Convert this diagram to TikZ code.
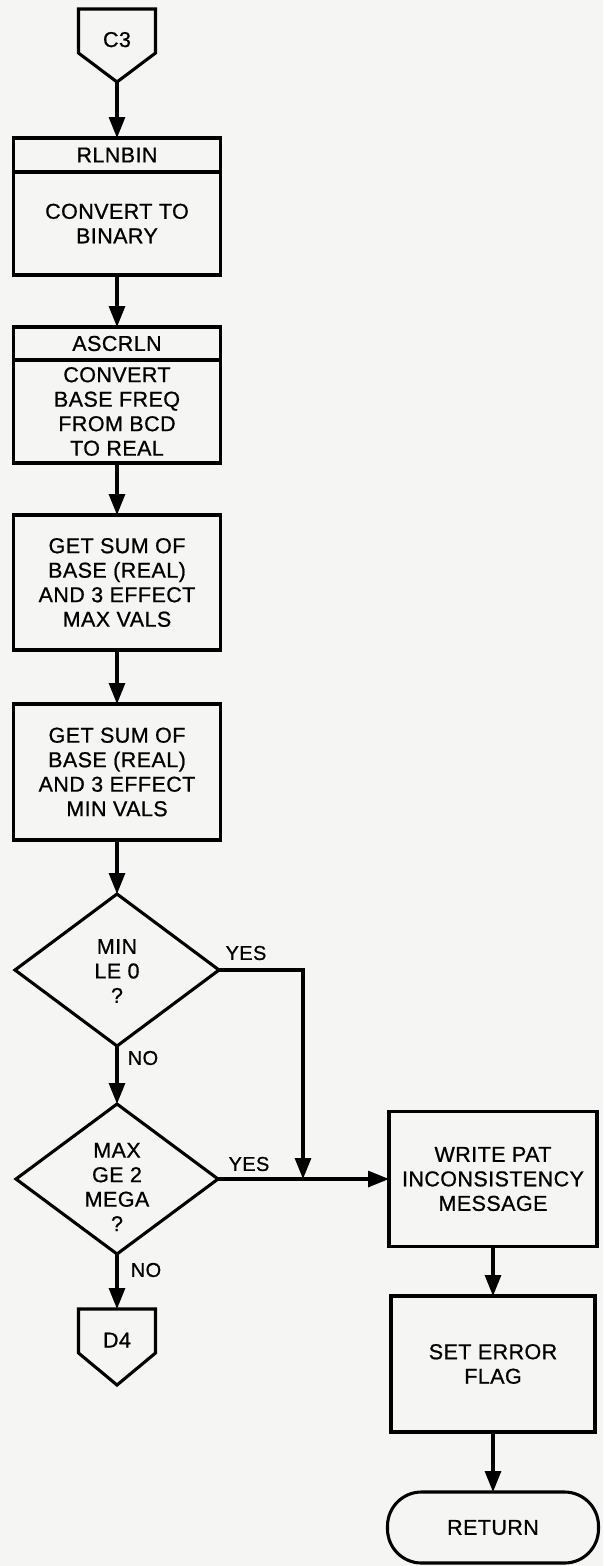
\documentclass[tikz,border=0pt]{standalone}
\usepackage{fontspec}
\setmainfont{Liberation Sans}
\newfontfamily\flowfont{Liberation Sans}[FakeBold=0.8, LetterSpace=2]
\usetikzlibrary{arrows.meta,shapes.geometric,calc}

\definecolor{paper}{RGB}{245,245,244}

\begin{document}
\begin{tikzpicture}[x=1pt,y=-1pt,
  flow/.style={line width=3.1pt, line join=miter},
  txt/.style={font=\flowfont\fontsize{21.5}{24.5}\selectfont, align=center, inner sep=0pt},
  lbl/.style={font=\flowfont\fontsize{20}{24}\selectfont, inner sep=0pt},
  procbox/.style={flow, draw, rectangle, minimum width=207pt, outer sep=0pt, txt},
  decision/.style={flow, draw, diamond, inner sep=0pt, outer sep=0pt},
  connector/.style={inner sep=0pt, outer sep=0pt, minimum width=77pt,
    font=\flowfont\fontsize{21.5}{24.5}\selectfont, text height=15pt},
  terminal/.style={flow, draw, rectangle, rounded corners=34pt, outer sep=0pt, txt},
  arr/.style={flow, -{Triangle[length=21pt,width=16pt]}},
]
% page
\useasboundingbox (0,0) rectangle (603,1566);
\fill[paper] (0,0) rectangle (603,1566);

% entry connector
\node[connector, minimum height=73pt, text depth=12pt] (c3) at (117,45.5) {C3};
\draw[flow] (c3.north west) -- (c3.north east) -- ([yshift=-44pt]c3.north east)
  -- (c3.south) -- ([yshift=-44pt]c3.north west) -- cycle;

% predefined processes
\node[procbox, minimum height=34pt] (rlnhead) at (117,155) {RLNBIN};
\node[procbox, minimum height=103pt, anchor=north] (rlnbody) at (rlnhead.south) {CONVERT TO\\BINARY};

\node[procbox, minimum height=33pt] (aschead) at (117,343.5) {ASCRLN};
\node[procbox, minimum height=103pt, anchor=north] (ascbody) at (aschead.south) {CONVERT\\BASE FREQ\\FROM BCD\\TO REAL};

% sums
\node[procbox, minimum height=135pt] (maxsum) at (117,582.5) {GET SUM OF\\BASE (REAL)\\AND 3 EFFECT\\MAX VALS};
\node[procbox, minimum height=136pt] (minsum) at (117,772) {GET SUM OF\\BASE (REAL)\\AND 3 EFFECT\\MIN VALS};

% decisions
\node[decision, minimum width=204pt, minimum height=152pt] (d1) at (117,970) {};
\node[txt] (d1txt) at (117,971) {MIN\\LE 0\\?};
\node[decision, minimum width=202pt, minimum height=150pt] (d2) at (117,1179) {};
\node[txt] (d2txt) at (117,1187) {MAX\\GE 2\\MEGA\\?};

% exit connector
\node[connector, minimum height=76pt, text depth=14pt] (d4) at (117,1347) {D4};
\draw[flow] (d4.north west) -- (d4.north east) -- ([yshift=-44pt]d4.north east)
  -- (d4.south) -- ([yshift=-44pt]d4.north west) -- cycle;

% error branch
\node[procbox, minimum width=208pt, minimum height=135pt] (write) at (493,1179) {WRITE PAT\\INCONSISTENCY\\MESSAGE};
\node[procbox, minimum width=204pt, minimum height=136pt] (seterr) at (493,1364) {SET ERROR\\FLAG};
\node[terminal, minimum width=211pt, minimum height=71pt] (ret) at (493,1527.5) {RETURN};

% flow lines
\draw[arr] (c3.south) -- (rlnhead.north);
\draw[arr] (rlnbody.south) -- (aschead.north);
\draw[arr] (ascbody.south) -- (maxsum.north);
\draw[arr] (maxsum.south) -- (minsum.north);
\draw[arr] (minsum.south) -- (d1.north);
\draw[arr] (d1.south) -- (d2.north);
\draw[arr] (d2.south) -- (d4.north);

\coordinate (join) at (303,1179);
\draw[arr] (d1.east) -| (join);
\draw[arr] (d2.east) -- (write.west);
\draw[arr] (write.south) -- (seterr.north);
\draw[arr] (seterr.south) -- (ret.north);

% branch labels
\node[lbl] (yes1) at (246,953) {YES};
\node[lbl] (no1) at (143,1058) {NO};
\node[lbl] (yes2) at (249,1164) {YES};
\node[lbl] (no2) at (146,1270) {NO};
\end{tikzpicture}
\end{document}
